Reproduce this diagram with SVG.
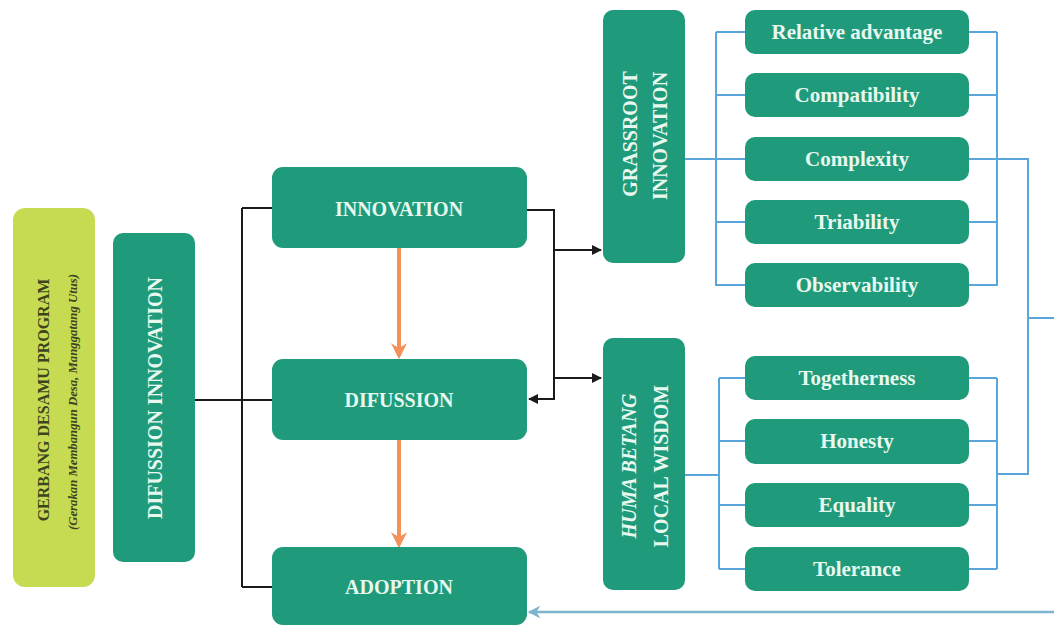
<svg xmlns="http://www.w3.org/2000/svg" width="1054" height="626" viewBox="0 0 1054 626">
<style>
.box{fill:#1f9b7b}
.lbl{font-family:"Liberation Serif",serif;font-weight:bold;fill:#e8f8ef;text-anchor:middle}
.item{font-size:21px}
.main{font-size:20px}
.blk{stroke:#1a1a1a;stroke-width:2;fill:none}
.org{stroke:#f2925a;stroke-width:4;fill:none}
.blu{stroke:#5aa6dc;stroke-width:2;fill:none}
.blu2{stroke:#7cb3cf;stroke-width:2.5;fill:none}
</style>
<defs>
<marker id="ab" viewBox="0 0 10 10" refX="9" refY="5" markerWidth="5" markerHeight="5" orient="auto" markerUnits="strokeWidth"><path d="M0,0 L10,5 L0,10 Z" fill="#1a1a1a"/></marker>
<marker id="ao" viewBox="0 0 10 10" refX="8" refY="5" markerWidth="4" markerHeight="4" orient="auto" markerUnits="strokeWidth"><path d="M0,0 L10,5 L0,10 L3,5 Z" fill="#f2925a"/></marker>
<marker id="abl" viewBox="0 0 10 10" refX="9" refY="5" markerWidth="5" markerHeight="5" orient="auto" markerUnits="strokeWidth"><path d="M0,0 L10,5 L0,10 L3,5 Z" fill="#7cb3cf"/></marker>
</defs>
<rect width="1054" height="626" fill="#ffffff"/>

<g id="connectors">
<path class="blk" d="M195,400 H272 M242,208 V587 M242,208 H272 M242,587 H272"/>
<path class="blk" d="M527,210 H554 V399 H529" marker-end="url(#ab)"/>
<path class="blk" d="M554,250 H601" marker-end="url(#ab)"/>
<path class="blk" d="M554,378 H601" marker-end="url(#ab)"/>
<path class="org" d="M399,248 V356" marker-end="url(#ao)"/>
<path class="org" d="M399,440 V545" marker-end="url(#ao)"/>
<path class="blu" d="M685,159 H716 M716,32 V286 M716,32 H745 M716,95 H745 M716,159 H745 M716,222 H745 M716,285 H745"/>
<path class="blu" d="M997,32 V286 M969,32 H997 M969,95 H997 M969,222 H997 M969,285 H997"/>
<path class="blu" d="M969,159 H1028 V474 H997 M1028,318 H1054"/>
<path class="blu" d="M685,475 H719 M719,378 V569 M719,378 H745 M719,441 H745 M719,505 H745 M719,569 H745"/>
<path class="blu" d="M997,378 V569 M969,378 H997 M969,441 H997 M969,505 H997 M969,569 H997"/>
<path class="blu2" d="M1054,612 H529" marker-end="url(#abl)"/>
</g>

<g id="gerbang">
<rect x="13" y="208" width="82" height="379" rx="12" fill="#c6db52"/>
<text transform="translate(43,400) rotate(-90)" dy="0.35em" text-anchor="middle" font-family="Liberation Serif, serif" font-weight="bold" font-size="16" fill="#3d4420">GERBANG DESAMU PROGRAM</text>
<text transform="translate(72,402) rotate(-90)" dy="0.35em" text-anchor="middle" font-family="Liberation Serif, serif" font-weight="bold" font-style="italic" font-size="13" fill="#3d4420" textLength="256" lengthAdjust="spacingAndGlyphs">(Gerakan Membangun Desa, Manggatang Utus)</text>
</g>

<g id="difussion-innovation">
<rect class="box" x="113" y="233" width="82" height="329" rx="10"/>
<text class="lbl main" transform="translate(155,398) rotate(-90)" dy="0.35em">DIFUSSION INNOVATION</text>
</g>

<g id="innovation">
<rect class="box" x="272" y="167" width="255" height="81" rx="11"/>
<text class="lbl main" x="399" y="216">INNOVATION</text>
</g>
<g id="difussion">
<rect class="box" x="272" y="359" width="255" height="81" rx="11"/>
<text class="lbl main" x="399" y="407">DIFUSSION</text>
</g>
<g id="adoption">
<rect class="box" x="272" y="547" width="255" height="78" rx="11"/>
<text class="lbl main" x="399" y="594">ADOPTION</text>
</g>

<g id="grassroot">
<rect class="box" x="603" y="10" width="82" height="253" rx="10"/>
<text class="lbl main" transform="translate(630,134) rotate(-90)" dy="0.35em">GRASSROOT</text>
<text class="lbl main" transform="translate(660,136) rotate(-90)" dy="0.35em">INNOVATION</text>
</g>
<g id="huma-betang">
<rect class="box" x="603" y="338" width="82" height="252" rx="10"/>
<text class="lbl main" transform="translate(629,466) rotate(-90)" dy="0.35em" font-style="italic">HUMA BETANG</text>
<text class="lbl main" transform="translate(661,466) rotate(-90)" dy="0.35em">LOCAL WISDOM</text>
</g>

<g id="relative-advantage"><rect class="box" x="745" y="10" width="224" height="44" rx="10"/><text class="lbl item" x="857" y="39">Relative advantage</text></g>
<g id="compatibility"><rect class="box" x="745" y="73" width="224" height="44" rx="10"/><text class="lbl item" x="857" y="102">Compatibility</text></g>
<g id="complexity"><rect class="box" x="745" y="137" width="224" height="44" rx="10"/><text class="lbl item" x="857" y="166">Complexity</text></g>
<g id="triability"><rect class="box" x="745" y="200" width="224" height="44" rx="10"/><text class="lbl item" x="857" y="229">Triability</text></g>
<g id="observability"><rect class="box" x="745" y="263" width="224" height="44" rx="10"/><text class="lbl item" x="857" y="292">Observability</text></g>

<g id="togetherness"><rect class="box" x="745" y="356" width="224" height="44" rx="10"/><text class="lbl item" x="857" y="385">Togetherness</text></g>
<g id="honesty"><rect class="box" x="745" y="419" width="224" height="45" rx="10"/><text class="lbl item" x="857" y="448">Honesty</text></g>
<g id="equality"><rect class="box" x="745" y="483" width="224" height="44" rx="10"/><text class="lbl item" x="857" y="512">Equality</text></g>
<g id="tolerance"><rect class="box" x="745" y="547" width="224" height="44" rx="10"/><text class="lbl item" x="857" y="576">Tolerance</text></g>
</svg>
